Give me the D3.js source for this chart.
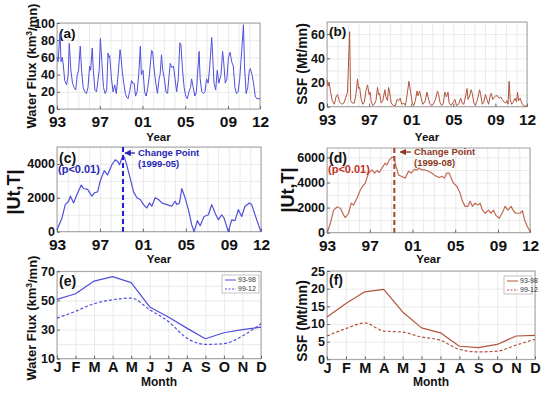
<!DOCTYPE html>
<html><head><meta charset="utf-8">
<script src="https://cdn.jsdelivr.net/npm/d3@7/dist/d3.min.js"></script>
<style>
 body{margin:0;background:#fff;}
 svg{display:block;font-family:"Liberation Sans",Arial,sans-serif;font-weight:bold;}
 .grid line{stroke:#e4e4e4;stroke-width:0.8;}
 .grid path{display:none;}
 .ax path{display:none;}
 .ax line{stroke:#666;}
</style></head><body>
<svg id="fig" width="550" height="396"></svg>
<script>
// ---- data ----
var yearTicks = [1993, 1997, 2001, 2005, 2009, 2012];
var yearLabels = ["93", "97", "01", "05", "09", "12"];
var months = ["J","F","M","A","M","J","J","A","S","O","N","D"];

// (a) monthly water flux, [year, km3/mn]
var waterFlux = [[1993.0,60],[1993.1,55],[1993.28,88],[1993.38,55],[1993.5,60],[1993.6,50],[1993.72,33],[1993.9,28],
 [1994.05,40],[1994.15,76],[1994.3,45],[1994.45,30],[1994.6,25],[1994.75,22],[1994.9,40],[1995.02,45],[1995.18,73],
 [1995.3,45],[1995.45,25],[1995.6,20],[1995.75,18],[1995.9,25],[1996.05,50],[1996.15,45],[1996.3,71],[1996.4,45],
 [1996.55,22],[1996.7,20],[1996.85,35],[1996.95,45],[1997.06,82],[1997.2,55],[1997.35,25],[1997.5,18],[1997.65,22],
 [1997.78,65],[1997.85,60],[1997.93,62],[1998.1,35],[1998.25,20],[1998.4,28],[1998.55,18],[1998.72,40],[1998.9,69],
 [1998.98,62],[1999.1,45],[1999.25,30],[1999.4,18],[1999.52,14],[1999.65,12],[1999.8,20],[1999.98,33],[2000.1,30],
 [2000.22,30],[2000.35,15],[2000.5,20],[2000.65,40],[2000.8,73],[2000.9,40],[2001.05,45],[2001.2,20],[2001.35,15],
 [2001.5,25],[2001.65,40],[2001.85,68],[2001.95,67],[2002.1,45],[2002.25,30],[2002.4,18],[2002.55,35],[2002.65,40],
 [2002.78,63],[2002.9,45],[2003.05,35],[2003.2,20],[2003.35,18],[2003.5,40],[2003.6,53],[2003.75,48],[2003.9,50],
 [2004.05,35],[2004.2,20],[2004.35,35],[2004.5,77],[2004.6,75],[2004.75,45],[2004.9,25],[2005.05,15],[2005.2,12],
 [2005.35,20],[2005.5,25],[2005.6,35],[2005.75,25],[2005.9,15],[2006.05,20],[2006.15,40],[2006.3,67],[2006.4,35],
 [2006.55,20],[2006.7,18],[2006.85,20],[2007.0,35],[2007.15,30],[2007.3,50],[2007.48,83],[2007.58,60],[2007.7,30],
 [2007.85,22],[2008.0,45],[2008.15,30],[2008.35,40],[2008.5,67],[2008.6,55],[2008.75,30],[2008.9,35],[2009.05,60],
 [2009.2,66],[2009.35,55],[2009.5,50],[2009.65,25],[2009.8,18],[2009.95,20],[2010.1,35],[2010.3,70],[2010.45,98],
 [2010.55,50],[2010.7,18],[2010.85,25],[2011.0,45],[2011.1,47],[2011.25,40],[2011.4,30],[2011.55,15],[2011.7,12],[2012.0,12]];

// (b) monthly suspended sediment flux, [year, Mt/mn]
var ssf = [[1993.0,22],[1993.1,17],[1993.2,20],[1993.35,12],[1993.5,5],[1993.7,2],[1993.85,8],[1994.0,10],[1994.2,4],
 [1994.4,2],[1994.6,3],[1994.8,8],[1994.95,12],[1995.15,62],[1995.25,5],[1995.4,3],[1995.6,3],[1995.75,10],[1995.9,23],
 [1996.0,15],[1996.1,16],[1996.25,6],[1996.4,2],[1996.55,4],[1996.7,13],[1996.85,18],[1997.0,10],[1997.1,12],[1997.2,4],
 [1997.35,1],[1997.5,2],[1997.65,5],[1997.8,16],[1997.9,10],[1998.0,11],[1998.15,3],[1998.3,5],[1998.5,14],[1998.6,8],
 [1998.75,5],[1998.85,16],[1998.95,12],[1999.1,3],[1999.3,1],[1999.5,1],[1999.65,6],[1999.8,5],[1999.95,7],[2000.1,2],
 [2000.3,3],[2000.45,1],[2000.6,9],[2000.78,21],[2000.95,12],[2001.1,3],[2001.25,1],[2001.4,5],[2001.55,13],[2001.65,9],
 [2001.8,13],[2001.95,7],[2002.1,2],[2002.3,4],[2002.5,12],[2002.6,8],[2002.75,3],[2002.9,1],[2003.1,2],[2003.3,6],
 [2003.5,13],[2003.6,10],[2003.75,3],[2003.9,1],[2004.05,3],[2004.2,12],[2004.35,8],[2004.5,12],[2004.6,3],[2004.8,1],
 [2005.0,4],[2005.15,6],[2005.3,1],[2005.5,2],[2005.7,7],[2005.85,3],[2006.0,2],[2006.15,8],[2006.3,15],[2006.4,6],
 [2006.55,9],[2006.7,14],[2006.8,11],[2006.95,3],[2007.1,1],[2007.3,6],[2007.5,14],[2007.6,10],[2007.75,2],[2007.9,4],
 [2008.05,10],[2008.2,6],[2008.35,2],[2008.5,9],[2008.6,11],[2008.75,6],[2008.9,8],[2009.05,9],[2009.2,9],[2009.35,7],
 [2009.5,8],[2009.65,6],[2009.8,4],[2009.95,3],[2010.1,5],[2010.2,2],[2010.3,21],[2010.4,6],[2010.55,2],[2010.7,4],
 [2010.85,7],[2011.0,4],[2011.1,12],[2011.2,5],[2011.35,7],[2011.5,3],[2011.65,1],[2011.8,0.5],[2012.0,0.5]];

// (c) |Ut,T| for water flux
var utWater = [[1993.0,100],[1993.06,200],[1993.46,800],[1993.77,1600],[1994.08,1800],[1994.24,2100],[1994.55,1700],
 [1994.86,2200],[1995.26,2750],[1995.48,2550],[1995.85,2500],[1996.25,2100],[1996.5,2300],[1996.78,2350],[1997.03,3000],
 [1997.4,3600],[1997.71,3350],[1998.11,3950],[1998.42,4250],[1998.64,4150],[1998.83,3950],[1999.04,4350],[1999.26,4400],
 [1999.45,4050],[1999.82,3150],[2000.13,2350],[2000.44,2000],[2000.75,1900],[2001.06,1600],[2001.37,1400],[2001.62,1700],
 [2001.83,1500],[2002.14,2000],[2002.45,1900],[2002.76,1700],[2003.23,1600],[2003.69,1500],[2004.0,1800],[2004.16,1600],
 [2004.41,1700],[2004.62,2550],[2004.93,2000],[2005.24,1300],[2005.55,400],[2005.77,0],[2006.08,650],[2006.33,350],
 [2006.7,900],[2007.1,1000],[2007.41,1600],[2007.72,1100],[2008.03,700],[2008.34,1000],[2008.56,800],[2008.96,0],
 [2009.27,700],[2009.58,650],[2009.89,1300],[2010.2,900],[2010.51,1500],[2010.92,1700],[2011.13,1600],[2011.6,700],[2012.0,0]];

// (d) |Ut,T| for sediment flux
var utSsf = [[1993.0,0],[1993.06,100],[1993.31,750],[1993.62,1800],[1993.93,2050],[1994.25,1950],[1994.56,1400],[1994.71,1200],
 [1995.02,1550],[1995.27,2350],[1995.49,2200],[1995.8,2750],[1996.12,3400],[1996.33,3700],[1996.58,3950],[1996.89,4750],
 [1997.21,5000],[1997.45,4750],[1997.67,4950],[1997.89,4800],[1998.14,5150],[1998.45,5550],[1998.61,5400],[1998.83,5800],
 [1999.07,6000],[1999.26,6050],[1999.45,5300],[1999.7,4600],[1999.95,4500],[2000.32,4350],[2000.63,4900],[2000.88,4750],
 [2001.19,5050],[2001.41,5000],[2001.63,5150],[2001.88,5000],[2002.19,5000],[2002.5,4900],[2002.81,4750],[2003.12,4550],
 [2003.5,4400],[2003.75,4500],[2004.0,4350],[2004.21,4750],[2004.43,4750],[2004.62,4350],[2004.84,3950],[2005.15,3700],
 [2005.46,3150],[2005.68,2500],[2005.93,2100],[2006.18,2100],[2006.4,2500],[2006.61,2100],[2006.86,2350],[2007.11,2200],
 [2007.33,2350],[2007.55,1800],[2007.8,1550],[2008.11,1800],[2008.36,1550],[2008.58,1800],[2008.79,1400],[2009.11,1150],
 [2009.42,1600],[2009.67,2100],[2009.92,1800],[2010.23,2100],[2010.45,1750],[2010.66,1550],[2011.07,1550],[2011.29,1750],
 [2011.5,1000],[2011.75,500],[2012.0,100]];

var changeWater = 1999.15, changeWaterLabel = "(1999-05)";
var changeSsf = 1999.3, changeSsfLabel = "(1999-08)";

// (e) (f) monthly climatology
var wf9398 = [50.7, 54.6, 63.3, 66.3, 62.2, 45.5, 38.6, 31, 23.7, 27.8, 29.9, 31.7];
var wf9912 = [37.9, 42.5, 47.8, 50.5, 51.6, 43.6, 35.6, 24.2, 19.8, 20.3, 25.6, 34];
var ssf9398 = [12.0, 15.8, 19.1, 19.8, 13.4, 8.9, 7.5, 3.7, 3.3, 4.2, 6.6, 6.8];
var ssf9912 = [6.6, 8.7, 10.3, 8.0, 7.7, 6.3, 5.4, 2.8, 2.1, 2.3, 4.0, 5.7];
var periods = ["93-98", "99-12"];

var blue = "#4f4fdc", blueText = "#2828b4";
var brown = "#b0553c", brownText = "#8c3a1e", redText = "#c5302a";

var svg = d3.select("#fig");

function panel(p){
  var g = svg.append("g");
  var x = p.x, y = p.y;
  var w = x.range()[1]-x.range()[0], h = y.range()[0]-y.range()[1];
  var top = y.range()[1], bot = y.range()[0], left = x.range()[0];

  g.append("g").attr("class","grid").attr("transform","translate(0,"+bot+")")
    .call(d3.axisBottom(x).tickValues(p.xGrid).tickSize(-h).tickFormat(""));
  g.append("g").attr("class","grid").attr("transform","translate("+left+",0)")
    .call(d3.axisLeft(y).tickValues(p.yGrid).tickSize(-w).tickFormat(""));
  g.append("rect").attr("x",left).attr("y",top).attr("width",w).attr("height",h)
    .attr("fill","none").attr("stroke","#8a8a8a").attr("stroke-width",0.8);

  var ax = g.append("g").attr("class","ax").attr("transform","translate(0,"+bot+")")
    .call(d3.axisBottom(x).tickValues(p.xTicks).tickSize(-3).tickPadding(p.xPad).tickFormat(p.xFmt));
  ax.selectAll("text").attr("fill","#111").style("font-size",p.xFont+"px").style("font-weight","bold");
  var ay = g.append("g").attr("class","ax").attr("transform","translate("+left+",0)")
    .call(d3.axisLeft(y).tickValues(p.yTicks).tickSize(-3).tickPadding(2).tickFormat(d3.format("d")));
  ay.selectAll("text").attr("fill","#111").style("font-size",p.yFont+"px").style("font-weight","bold");

  g.append("text").attr("x",(left+x.range()[1])/2).attr("y",p.xLabelY).attr("text-anchor","middle")
    .style("font-size",p.xLabelFont+"px").attr("fill","#111").text(p.xLabel);
  var yl = g.append("text").attr("transform","translate("+p.yLabelX+","+p.yLabelCy+") rotate(-90)")
    .attr("text-anchor","middle").attr("dy","0.35em").style("font-size",p.yLabelFont+"px").attr("fill","#111");
  if(p.sup){
    yl.append("tspan").text(p.yLabel[0]);
    yl.append("tspan").attr("dy","-0.4em").style("font-size",(p.yLabelFont*0.65)+"px").text(p.sup);
    yl.append("tspan").attr("dy","0.4em").text(p.yLabel[1]);
  } else yl.text(p.yLabel);

  g.append("text").attr("x",left+2).attr("y",p.tagY).style("font-size",p.tagFont+"px").attr("fill","#111").text(p.tag);
  return g;
}

function yearX(x0,x1){ return d3.scaleLinear().domain([1993,2012]).range([x0,x1]); }
function monthX(x0,x1){ return d3.scaleLinear().domain([0,11]).range([x0,x1]); }
var yearGrid = d3.range(1993,2013);
var yrFmt = function(d,i){ return yearLabels[i]; };
var moFmt = function(d){ return months[d]; };

function drawLine(g, data, x, y, color, width, dash, curve){
  g.append("path").datum(data).attr("fill","none").attr("stroke",color).attr("stroke-width",width)
    .attr("stroke-dasharray",dash||null).attr("stroke-linejoin","round")
    .attr("d", d3.line().x(function(d){return x(d[0]);}).y(function(d){return y(d[1]);}).curve(curve||d3.curveLinear));
}

// ---- (a)
var xa = yearX(57,260), ya = d3.scaleLinear().domain([0,100]).range([109,23]);
var ga = panel({x:xa,y:ya,xGrid:yearGrid,yGrid:d3.range(0,101,20),xTicks:yearTicks,xFmt:yrFmt,xPad:7,xFont:15.5,
  yTicks:d3.range(0,101,20),yFont:12.5,xLabel:"Year",xLabelY:141,xLabelFont:11.5,
  yLabel:["Water Flux (km","/mn)"],sup:"3",yLabelX:31,yLabelCy:66,yLabelFont:13,tag:"(a)",tagY:38,tagFont:13.5});
drawLine(ga, waterFlux, xa, ya, blue, 1);

// ---- (b)
var xb = yearX(327,527), yb = d3.scaleLinear().domain([0,70]).range([106.7,22]);
var gb = panel({x:xb,y:yb,xGrid:yearGrid,yGrid:d3.range(0,71,10),xTicks:yearTicks,xFmt:yrFmt,xPad:7,xFont:15.5,
  yTicks:[0,20,40,60],yFont:12.5,xLabel:"Year",xLabelY:141,xLabelFont:11.5,
  yLabel:"SSF (Mt/mn)",yLabelX:302,yLabelCy:64,yLabelFont:14,tag:"(b)",tagY:36,tagFont:13.5});
drawLine(gb, ssf, xb, yb, brown, 1);

// ---- (c)
var xc = yearX(57,261), yc = d3.scaleLinear().domain([0,5000]).range([231.7,147]);
var gc = panel({x:xc,y:yc,xGrid:yearGrid,yGrid:d3.range(0,5001,1000),xTicks:yearTicks,xFmt:yrFmt,xPad:7,xFont:15.5,
  yTicks:[0,2000,4000],yFont:12.5,xLabel:"Year",xLabelY:263,xLabelFont:11.5,
  yLabel:"|Ut,T|",yLabelX:14,yLabelCy:192,yLabelFont:18,tag:"(c)",tagY:163,tagFont:14});
drawLine(gc, utWater, xc, yc, blue, 1.2);
gc.append("line").attr("x1",xc(changeWater)).attr("x2",xc(changeWater)).attr("y1",147).attr("y2",231.7)
  .attr("stroke","#2020c8").attr("stroke-width",2).attr("stroke-dasharray","5,3");
gc.append("text").attr("x",58).attr("y",173).style("font-size","11px").attr("fill",blueText).text("(p<0.01)");
gc.append("text").attr("x",138).attr("y",156).style("font-size","9.5px").attr("fill",blueText).text("Change Point");
gc.append("text").attr("x",138).attr("y",167).style("font-size","9.5px").attr("fill",blueText).text(changeWaterLabel);

// ---- (d)
var xd = yearX(327,530), yd = d3.scaleLinear().domain([0,6750]).range([232.7,148]);
var gd = panel({x:xd,y:yd,xGrid:yearGrid,yGrid:d3.range(0,6001,1000),xTicks:yearTicks,xFmt:yrFmt,xPad:7,xFont:15.5,
  yTicks:[0,2000,4000,6000],yFont:12.5,xLabel:"Year",xLabelY:263,xLabelFont:11.5,
  yLabel:"|Ut,T|",yLabelX:288,yLabelCy:190,yLabelFont:18,tag:"(d)",tagY:163,tagFont:14});
drawLine(gd, utSsf, xd, yd, "#bf6a52", 1.2);
gd.append("line").attr("x1",xd(changeSsf)).attr("x2",xd(changeSsf)).attr("y1",148).attr("y2",232.7)
  .attr("stroke","#a0482a").attr("stroke-width",2).attr("stroke-dasharray","5,3");
gd.append("text").attr("x",328).attr("y",173).style("font-size","11px").attr("fill",redText).text("(p<0.01)");
gd.append("text").attr("x",414).attr("y",155).style("font-size","9.5px").attr("fill",brownText).text("Change Point");
gd.append("text").attr("x",414).attr("y",166).style("font-size","9.5px").attr("fill",brownText).text(changeSsfLabel);

// arrows
var defs = svg.append("defs");
[["ab",blueText],["ar",brownText]].forEach(function(m){
  defs.append("marker").attr("id",m[0]).attr("viewBox","0 0 10 10").attr("refX",9).attr("refY",5)
    .attr("markerWidth",5).attr("markerHeight",5).attr("orient","auto")
    .append("path").attr("d","M0,0L10,5L0,10z").attr("fill",m[1]);
});
gc.append("line").attr("x1",135).attr("x2",xc(changeWater)+2).attr("y1",153).attr("y2",153)
  .attr("stroke",blueText).attr("stroke-width",1.3).attr("marker-end","url(#ab)");
gd.append("line").attr("x1",411).attr("x2",xd(changeSsf)+6).attr("y1",152).attr("y2",152)
  .attr("stroke",brownText).attr("stroke-width",1.3).attr("marker-end","url(#ar)");

// ---- (e)
var xe = monthX(57,261), ye = d3.scaleLinear().domain([10,70]).range([358.7,271.3]);
var ge = panel({x:xe,y:ye,xGrid:d3.range(0,12),yGrid:d3.range(10,71,10),xTicks:d3.range(0,12),xFmt:moFmt,xPad:3,xFont:14.5,
  yTicks:[10,30,50,70],yFont:12.5,xLabel:"Month",xLabelY:386,xLabelFont:12,
  yLabel:["Water Flux (km","/mn)"],sup:"3",yLabelX:31,yLabelCy:318,yLabelFont:13,tag:"(e)",tagY:286,tagFont:14});
drawLine(ge, wf9398.map(function(v,i){return [i,v];}), xe, ye, blue, 1.2);
drawLine(ge, wf9912.map(function(v,i){return [i,v];}), xe, ye, blue, 1.2, "3,2", d3.curveMonotoneX);

// ---- (f)
var xf = monthX(327,535), yf = d3.scaleLinear().domain([0,25]).range([359.3,271]);
var gf = panel({x:xf,y:yf,xGrid:d3.range(0,12),yGrid:d3.range(0,26,5),xTicks:d3.range(0,12),xFmt:moFmt,xPad:3,xFont:14.5,
  yTicks:d3.range(0,26,5),yFont:12.5,xLabel:"Month",xLabelY:386,xLabelFont:12,
  yLabel:"SSF (Mt/mn)",yLabelX:302,yLabelCy:321,yLabelFont:14,tag:"(f)",tagY:285,tagFont:14});
drawLine(gf, ssf9398.map(function(v,i){return [i,v];}), xf, yf, brown, 1.2);
drawLine(gf, ssf9912.map(function(v,i){return [i,v];}), xf, yf, brown, 1.2, "3,2", d3.curveMonotoneX);

// legends
function legend(g, bx, by, bw, color){
  g.append("rect").attr("x",bx).attr("y",by).attr("width",bw).attr("height",18)
    .attr("fill","#fff").attr("stroke","#9a9a9a").attr("stroke-width",0.6);
  periods.forEach(function(t,i){
    var yy = by+5+i*9;
    g.append("line").attr("x1",bx+3).attr("x2",bx+14).attr("y1",yy).attr("y2",yy)
      .attr("stroke",color).attr("stroke-width",1).attr("stroke-dasharray",i?"2,1.5":null);
    g.append("text").attr("x",bx+16).attr("y",yy+2.4).style("font-size","7px").style("font-weight","normal")
      .attr("fill","#333").text(t);
  });
}
legend(ge, 222, 275, 37, blue);
legend(gf, 504, 276, 28, brown);
</script>
</body></html>
